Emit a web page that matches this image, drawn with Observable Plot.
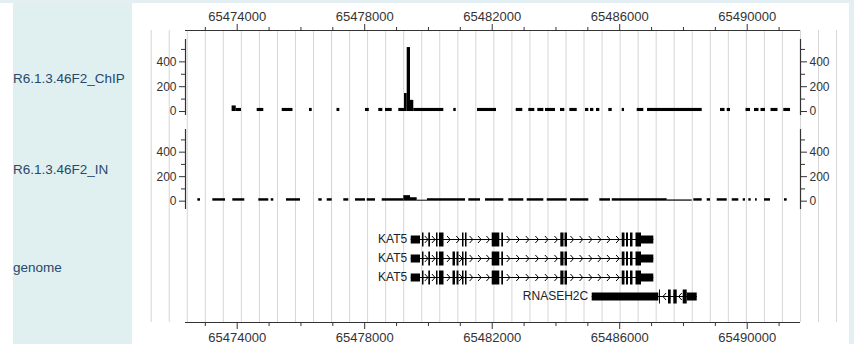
<!DOCTYPE html>
<html><head><meta charset="utf-8">
<script src="https://cdn.jsdelivr.net/npm/d3@7"></script>
<script src="https://cdn.jsdelivr.net/npm/@observablehq/plot@0.6"></script>
<style>
body{margin:0;background:#fff;font-family:"Liberation Sans",Arial,sans-serif;}
#wrap{position:relative;width:854px;height:344px;overflow:hidden;background:#fff;}
#wrap svg{position:absolute;left:0;top:0;}
.lab{position:absolute;left:13px;font-size:13.5px;color:#27486b;line-height:16px;}
</style></head><body>
<div id="wrap">
 <div style="position:absolute;left:0;top:0;width:854px;height:3px;background:#e3eff3"></div>
 <div style="position:absolute;left:849px;top:0;width:5px;height:344px;background:#e3eff3"></div>
 <div style="position:absolute;left:13px;top:3px;width:119px;height:341px;background:#e0f0f0"></div>
 <div class="lab" style="top:71px">R6.1.3.46F2_ChIP</div>
 <div class="lab" style="top:162px">R6.1.3.46F2_IN</div>
 <div class="lab" style="top:260px">genome</div>
</div>
<script>
// ---- data ----
const xDomain = [65472378, 65491672];
const majorTicks = [65474000, 65478000, 65482000, 65486000, 65490000];
const minorTicks = [65473000, 65475000, 65476000, 65477000, 65479000, 65480000, 65481000,
  65483000, 65484000, 65485000, 65487000, 65488000, 65489000, 65491000];
const yTicks = [0, 200, 400];
const yMinorTicks = [100, 300, 500];
const gridStart = 65471302, gridStep = 565.8, gridCount = 39;

// [start, end, coverage]
const chipSegments = [
  [65473840,65473970,45],[65473970,65474135,25],[65474627,65474834,25],[65475412,65475750,25],
  [65476268,65476353,25],[65477131,65477219,25],[65478025,65478144,25],[65478442,65478568,25],
  [65478653,65478863,25],[65479070,65479249,25],[65479249,65479333,145],[65479333,65479437,515],
  [65479437,65479540,90],[65479540,65480482,25],[65480795,65480871,25],[65481539,65482135,25],
  [65482753,65482960,25],[65483148,65483337,25],[65483431,65483619,25],[65483672,65483986,25],
  [65484143,65484278,25],[65484435,65484667,25],[65484927,65485031,25],[65485084,65485188,25],
  [65485272,65485376,25],[65485658,65485765,25],[65486079,65486151,25],[65486549,65486756,25],
  [65486872,65488588,25],[65489163,65489304,25],[65489373,65489476,25],[65489963,65490104,25],
  [65490229,65490370,25],[65490433,65490574,25],[65490747,65490966,25],[65491148,65491359,25]
];
const inSegments = [
  [65472764,65472849,20],[65473235,65473633,20],[65473862,65474238,20],[65474678,65474991,20],
  [65475067,65475148,20],[65475547,65475986,20],[65476560,65476667,20],[65476824,65476980,20],
  [65477344,65477501,20],[65477711,65478025,20],[65478078,65478339,20],[65478549,65479227,20],
  [65479227,65479437,45],[65479437,65479647,28],[65479647,65479970,8],[65479970,65481162,20],
  [65481266,65481633,20],[65481790,65482364,20],[65482521,65482991,20],[65483098,65483619,20],
  [65483726,65484353,20],[65484457,65485031,20],[65485376,65485711,20],[65485765,65487490,20],
  [65487490,65488275,10],[65488325,65488588,20],[65488745,65488849,20],[65489059,65489373,20],
  [65489530,65489737,20],[65489875,65489947,20],[65490050,65490126,20],[65490260,65490314,20],
  [65490543,65490731,20],[65491170,65491255,20]
];

// transcripts: exons [start, end, kind]
const kat5aExons = [
  [65479459,65479751,"utr"],[65479813,65479860,"cds"],[65480011,65480064,"cds"],[65480253,65480300,"cds"],
  [65480347,65480488,"cds"],[65481068,65481115,"cds"],[65481162,65481210,"cds"],[65482000,65482239,"cds"],
  [65482301,65482355,"cds"],[65484152,65484253,"cds"],[65484284,65484362,"cds"],[65486079,65486166,"cds"],
  [65486213,65486276,"cds"],[65486339,65486417,"cds"],[65486511,65486684,"cds"],[65486684,65487070,"utr"]
];
const kat5bExons = [
  [65479459,65479751,"utr"],[65479813,65479860,"cds"],[65480011,65480064,"cds"],[65480253,65480300,"cds"],
  [65480347,65480488,"cds"],[65480770,65480849,"cds"],[65480896,65480958,"cds"],[65481068,65481115,"cds"],
  [65481162,65481210,"cds"],[65482000,65482239,"cds"],[65482301,65482355,"cds"],[65484152,65484253,"cds"],
  [65484284,65484362,"cds"],[65486079,65486166,"cds"],[65486213,65486276,"cds"],[65486339,65486417,"cds"],
  [65486511,65486684,"cds"],[65486684,65487070,"utr"]
];
const kat5cExons = kat5bExons;
const rnaseh2cExons = [
  [65485137,65487227,"utr"],[65487250,65487280,"cds"],[65487531,65487616,"cds"],[65487697,65487804,"cds"],
  [65487992,65488118,"cds"],[65488118,65488432,"utr"]
];
const transcriptNames = ["KAT5","KAT5","KAT5","RNASEH2C"];
const transcriptRows = ["t1","t2","t3","t4"];
const transcriptStrands = [1,1,1,-1];
const transcriptExons = [kat5aExons, kat5bExons, kat5cExons, rnaseh2cExons];

// ---- build ----
const fmt = d3.format("d");
const FONT = "'Liberation Sans', Arial, sans-serif";
const base = {width: 854, height: 344, marginLeft: 185, marginRight: 54,
  style: {background: "transparent", fontFamily: FONT, color: "#222", overflow: "visible"}};
const gridX = d3.range(gridCount).map(i => gridStart + i * gridStep);
const wrap = document.getElementById("wrap");

// grid + top/bottom axes
wrap.append(Plot.plot({...base, marginTop: 30, marginBottom: 22,
  x: {domain: xDomain, axis: null},
  y: {domain: [0, 1], axis: null},
  marks: [
    Plot.ruleX(gridX, {stroke: "#d6d6d6", strokeWidth: 1}),
    Plot.ruleY([0, 1], {stroke: "#333", strokeWidth: 1}),
    Plot.axisX(majorTicks, {anchor: "top", tickSize: 7, tickPadding: 3, tickFormat: fmt, fontSize: 13, stroke: "#333", fill: "#333"}),
    Plot.axisX(minorTicks, {anchor: "top", tickSize: 4, tickFormat: () => "", stroke: "#333"}),
    Plot.axisX(majorTicks, {anchor: "bottom", tickSize: 7, tickPadding: 3, tickFormat: fmt, fontSize: 13, stroke: "#333", fill: "#333"}),
    Plot.axisX(minorTicks, {anchor: "bottom", tickSize: 4, tickFormat: () => "", stroke: "#333"})
  ]
}));

function trackPlot(segs, top, bottom, yDomain) {
  return Plot.plot({...base, marginTop: top, marginBottom: 344 - bottom,
    x: {domain: xDomain, axis: null},
    y: {domain: yDomain, axis: null},
    marks: [
      Plot.rect(segs, {x1: d => d[0], x2: d => d[1], y1: 0, y2: d => d[2], fill: "black"}),
      Plot.ruleX([xDomain[0], xDomain[1]], {stroke: "#333", strokeWidth: 1.2}),
      Plot.axisY(yTicks, {anchor: "left", tickSize: 6, tickPadding: 3, fontSize: 12, stroke: "#333", fill: "#333"}),
      Plot.axisY(yMinorTicks, {anchor: "left", tickSize: 4, tickFormat: () => "", stroke: "#333"}),
      Plot.axisY(yTicks, {anchor: "right", tickSize: 6, tickPadding: 3, fontSize: 12, stroke: "#333", fill: "#333"}),
      Plot.axisY(yMinorTicks, {anchor: "right", tickSize: 4, tickFormat: () => "", stroke: "#333"})
    ]
  });
}
wrap.append(trackPlot(chipSegments, 39, 115, [-32, 580]));
wrap.append(trackPlot(inSegments, 129, 209, [-68, 585]));

// genome track
const exons = [], introns = [], chevrons = [], labels = [];
const pxPerUnit = 615 / (xDomain[1] - xDomain[0]);
transcriptExons.forEach((ex, i) => {
  const row = transcriptRows[i], strand = transcriptStrands[i];
  ex.forEach(e => exons.push({x1: e[0], x2: e[1], kind: e[2], row}));
  introns.push({x1: ex[0][0], x2: ex[ex.length - 1][1], row});
  labels.push({x: ex[0][0], row, name: transcriptNames[i]});
  for (let k = 0; k + 1 < ex.length; k++) {
    const a = ex[k][1], b = ex[k + 1][0];
    const gpx = (b - a) * pxPerUnit;
    if (gpx < 3) continue;
    const n = Math.max(1, Math.round(gpx / 9));
    for (let j = 0; j < n; j++) chevrons.push({x: a + (j + 0.5) * (b - a) / n, row, strand});
  }
});
const chevR = {draw(ctx, size) { const r = Math.sqrt(size / Math.PI); ctx.moveTo(-r * 0.45, -r); ctx.lineTo(r * 0.45, 0); ctx.lineTo(-r * 0.45, r); }};
const chevL = {draw(ctx, size) { const r = Math.sqrt(size / Math.PI); ctx.moveTo(r * 0.45, -r); ctx.lineTo(-r * 0.45, 0); ctx.lineTo(r * 0.45, r); }};

wrap.append(Plot.plot({...base, marginTop: 230, marginBottom: 40,
  x: {domain: xDomain, axis: null},
  y: {type: "point", domain: transcriptRows, range: [238, 296], padding: 0, axis: null},
  marks: [
    Plot.ruleY(introns, {x1: "x1", x2: "x2", y: "row", stroke: "black", strokeWidth: 1}),
    Plot.dot(chevrons.filter(d => d.strand > 0), {x: "x", y: "row", r: 3.5, symbol: chevR, fill: "none", stroke: "black", strokeWidth: 1}),
    Plot.dot(chevrons.filter(d => d.strand < 0), {x: "x", y: "row", r: 3.5, symbol: chevL, fill: "none", stroke: "black", strokeWidth: 1}),
    Plot.ruleY(exons.filter(d => d.kind === "utr"), {x1: "x1", x2: "x2", y: "row", stroke: "black", strokeWidth: 8}),
    Plot.ruleY(exons.filter(d => d.kind === "cds"), {x1: "x1", x2: "x2", y: "row", stroke: "black", strokeWidth: 14}),
    Plot.text(labels, {x: "x", y: "row", text: "name", textAnchor: "end", dx: -4, fontSize: 12, fill: "#222", fontFamily: FONT})
  ]
}));
</script>
</body></html>
